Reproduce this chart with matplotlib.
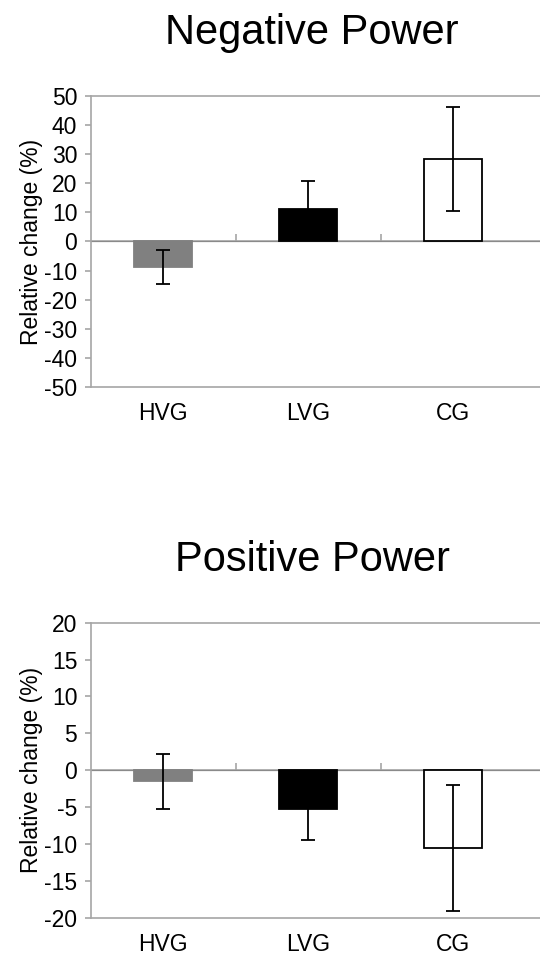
import matplotlib
matplotlib.use('agg')
import matplotlib.pyplot as plt
import numpy as np

plt.rcParams['font.family'] = ['Liberation Sans', 'DejaVu Sans']
plt.rcParams['axes.unicode_minus'] = False

groups = ['HVG', 'LVG', 'CG']
bar_colors = ['#808080', '#000000', '#ffffff']

neg_means = [-8.8, 11.1, 28.3]
neg_errs = [5.85, 9.8, 17.9]

pos_means = [-1.5, -5.3, -10.5]
pos_errs = [3.75, 4.2, 8.55]

GRID = '#a6a6a6'


def draw_panel(ax, means, errs, ymin, ymax, step):
    x = np.arange(len(groups))
    ax.bar(x, means, width=0.4, color=bar_colors, edgecolor=['#808080', 'black', 'black'],
           linewidth=1.3, zorder=2)
    ax.errorbar(x, means, yerr=errs, fmt='none', ecolor='black', elinewidth=1.3,
                capsize=5, capthick=1.3, zorder=3)
    ax.set_xlim(-0.5, 2.6)
    ax.set_ylim(ymin, ymax)
    ax.set_yticks(np.arange(ymin, ymax + step, step))
    ax.set_xticks(x)
    ax.set_xticklabels(groups)
    ax.tick_params(axis='x', length=0, labelsize=16.5, pad=11)
    ax.tick_params(axis='y', length=4.5, width=1.2, color=GRID, labelsize=16.5, pad=5)
    ax.spines['right'].set_visible(False)
    for s in ['left', 'top', 'bottom']:
        ax.spines[s].set_color(GRID)
        ax.spines[s].set_linewidth(1.2)
    ax.axhline(0, color=GRID, linewidth=1.2, zorder=1)
    sec = ax.secondary_xaxis(0.5)
    sec.set_xticks([0.5, 1.5])
    sec.set_xticklabels(['', ''])
    sec.tick_params(length=5, color=GRID, width=1.2)
    sec.spines['bottom'].set_visible(False)
    ax.set_ylabel('Relative change (%)', fontsize=16.5, labelpad=1)


fig = plt.figure(figsize=(5.4, 9.56), dpi=100)
ax1 = fig.add_axes([0.1676, 0.5952, 0.8324, 0.3044])
ax2 = fig.add_axes([0.1676, 0.0401, 0.8324, 0.3086])

draw_panel(ax1, neg_means, neg_errs, -50, 50, 10)
draw_panel(ax2, pos_means, pos_errs, -20, 20, 5)

fig.text(0.578, 1 - 33 / 956, 'Negative Power', fontsize=30, ha='center', va='center')
fig.text(0.578, 1 - 560 / 956, 'Positive Power', fontsize=30, ha='center', va='center')

fig.savefig('out.png', dpi=100)
